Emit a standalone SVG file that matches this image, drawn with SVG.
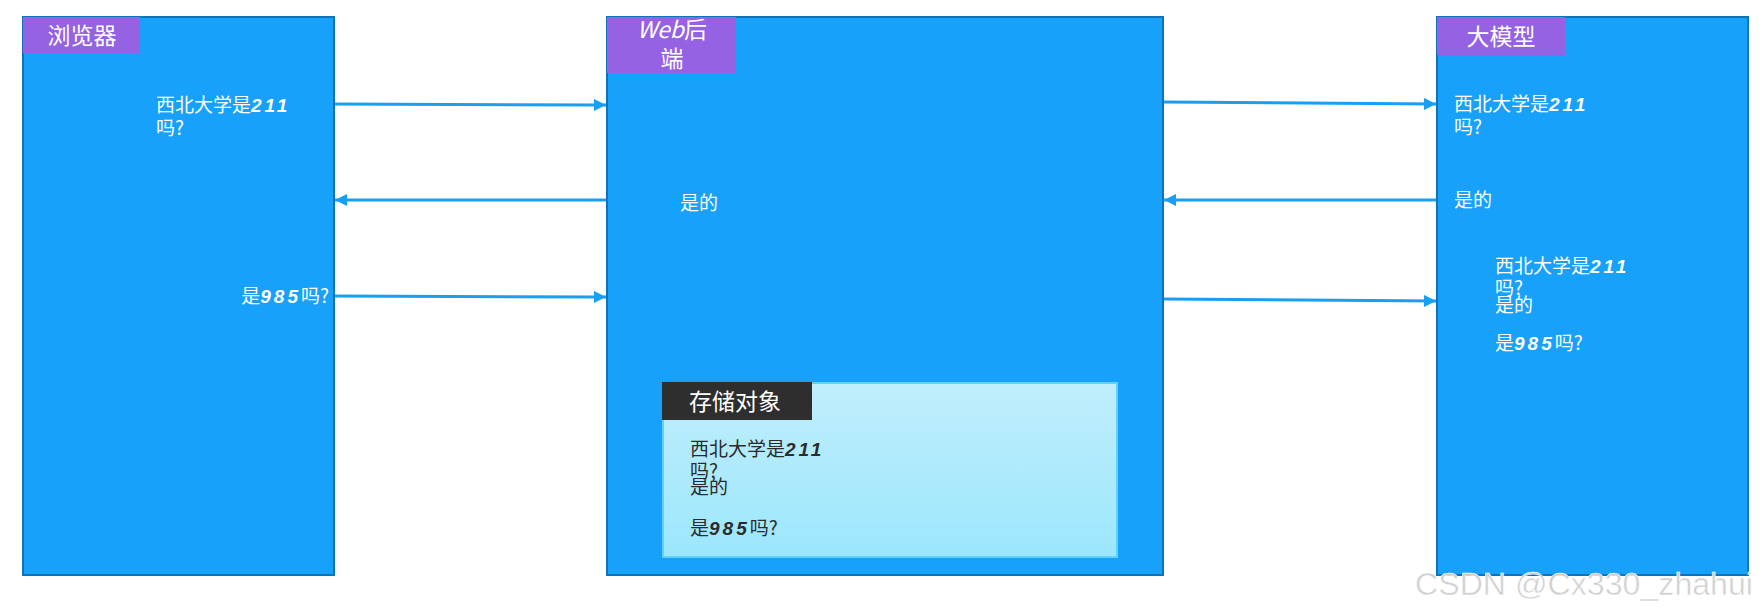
<svg xmlns="http://www.w3.org/2000/svg" width="1762" height="615" viewBox="0 0 1762 615">
<style>
.box{fill:#17a1fa;stroke:#0e74ba;stroke-width:2}
.lbl{fill:#9462e3}
.dark{fill:#2e2e2e}
.t{font-family:"Noto Sans CJK SC","Liberation Sans",sans-serif;font-size:19px;fill:#ffffff}
.td{font-family:"Noto Sans CJK SC","Liberation Sans",sans-serif;font-size:19px;fill:#2b2b2b}
.n{font-family:"Liberation Sans",sans-serif;font-style:italic;font-weight:bold;font-size:19px;letter-spacing:3px}
.h{font-family:"Noto Sans CJK SC","Liberation Serif",serif;font-size:23px;fill:#ffffff}
.c{fill:none;stroke:#199ff2;stroke-width:3}
.wm{font-family:"Liberation Sans",Arial,sans-serif;font-size:31px;fill:#d0d0d0;stroke:#ffffff;stroke-width:0.5}
</style>
<defs>
<marker id="arr" viewBox="0 0 10 10" refX="10" refY="5" markerWidth="4" markerHeight="4" orient="auto" markerUnits="strokeWidth">
<path d="M0,0 L10,5 L0,10 z" fill="#199ff2"/>
</marker>
<linearGradient id="sg" x1="0" y1="0" x2="0" y2="1">
<stop offset="0" stop-color="#c0eefc"/>
<stop offset="1" stop-color="#9ce7fc"/>
</linearGradient>
</defs>

<g id="browser">
<rect class="box" x="23" y="17" width="311" height="558"/>
<rect class="lbl" x="23" y="17" width="117" height="36"/>
<text class="h" x="82" y="44" text-anchor="middle">浏览器</text>
<text class="t" x="156" y="112">西北大学是<tspan class="n">211</tspan></text>
<text class="t" x="156" y="135">吗?</text>
<text class="t" x="329" y="303" text-anchor="end">是<tspan class="n">985</tspan>吗?</text>
</g>

<g id="web">
<rect class="box" x="607" y="17" width="556" height="558"/>
<rect class="lbl" x="607" y="17" width="129" height="56"/>
<text class="h" x="672" y="38" text-anchor="middle"><tspan font-style="italic">Web</tspan>后</text>
<text class="h" x="672" y="67" text-anchor="middle">端</text>
<text class="t" x="680" y="210">是的</text>
</g>

<g id="storage">
<rect x="663" y="383" width="454" height="174" fill="url(#sg)" stroke="#5fd2f6" stroke-width="2"/>
<rect class="dark" x="662" y="382" width="150" height="38"/>
<text class="h" x="689" y="410">存储对象</text>
<text class="td" x="690" y="456">西北大学是<tspan class="n">211</tspan></text>
<text class="td" x="690" y="478">吗?</text>
<text class="td" x="690" y="494">是的</text>
<text class="td" x="690" y="535">是<tspan class="n">985</tspan>吗?</text>
</g>

<g id="model">
<rect class="box" x="1437" y="17" width="311" height="558"/>
<rect class="lbl" x="1437" y="17" width="128" height="38"/>
<text class="h" x="1501" y="45" text-anchor="middle">大模型</text>
<text class="t" x="1454" y="111">西北大学是<tspan class="n">211</tspan></text>
<text class="t" x="1454" y="134">吗?</text>
<text class="t" x="1454" y="207">是的</text>
<text class="t" x="1495" y="273">西北大学是<tspan class="n">211</tspan></text>
<text class="t" x="1495" y="295">吗?</text>
<text class="t" x="1495" y="312">是的</text>
<text class="t" x="1495" y="350">是<tspan class="n">985</tspan>吗?</text>
</g>

<g id="connectors">
<line class="c" x1="335" y1="104" x2="606" y2="105" marker-end="url(#arr)"/>
<line class="c" x1="606" y1="200" x2="335" y2="200" marker-end="url(#arr)"/>
<line class="c" x1="335" y1="296" x2="606" y2="297" marker-end="url(#arr)"/>
<line class="c" x1="1164" y1="102" x2="1436" y2="104" marker-end="url(#arr)"/>
<line class="c" x1="1436" y1="200" x2="1164" y2="200" marker-end="url(#arr)"/>
<line class="c" x1="1164" y1="299" x2="1436" y2="301" marker-end="url(#arr)"/>
</g>

<text class="wm" x="1415" y="595" textLength="338" lengthAdjust="spacingAndGlyphs">CSDN @Cx330_zhahui</text>
</svg>
